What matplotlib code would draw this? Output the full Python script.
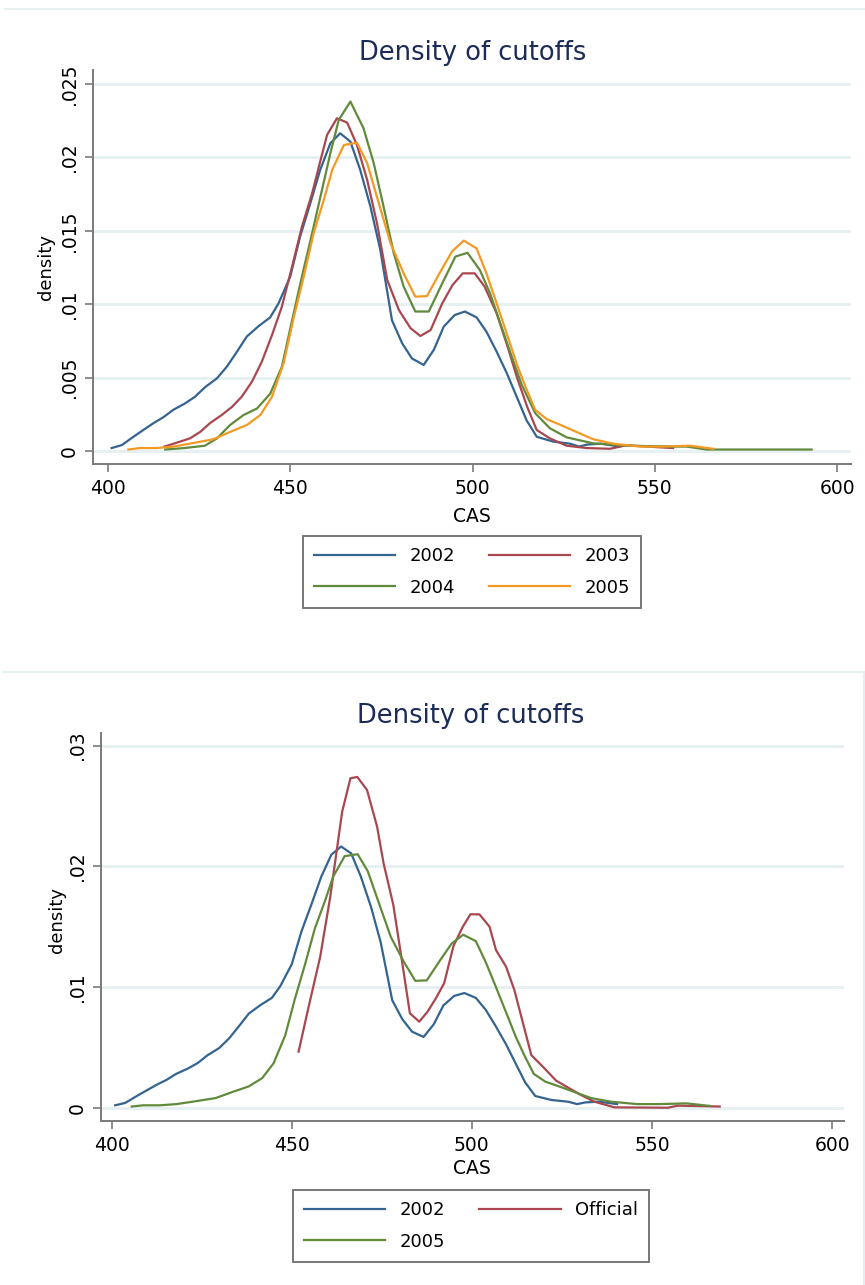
import matplotlib
matplotlib.use("Agg")
import matplotlib.pyplot as plt
from matplotlib.lines import Line2D

# ---------------- data ----------------
x2002 = [401, 403.8, 407, 409.7, 412.5, 415.2, 417.9, 421.2, 423.9, 426.6, 429.9, 432.6, 435.4, 438.1,
         441.3, 444.5, 446.8, 450, 452.7, 455.5, 458.2, 461, 463.7, 466.5, 469.2, 472, 474.7, 477.9,
         480.7, 483.4, 486.6, 489.4, 492.1, 495.1, 497.9, 501.1, 503.8, 506.6, 509.4, 512.1, 514.8,
         517.6, 522.1, 526.7, 529.2, 531.5, 535.2, 540.3]
y2002 = [0.0002, 0.0004, 0.00097, 0.00143, 0.0019, 0.0023, 0.0028, 0.00325, 0.0037, 0.00434, 0.00495,
         0.00574, 0.00677, 0.0078, 0.0085, 0.0091, 0.01006, 0.01188, 0.0146, 0.01687, 0.01914, 0.02096,
         0.02164, 0.02107, 0.01914, 0.01664, 0.0137, 0.0089, 0.00733, 0.0063, 0.00586, 0.0069, 0.00847,
         0.00926, 0.0095, 0.0091, 0.00813, 0.00677, 0.0053, 0.0037, 0.0021, 0.00097, 0.00064, 0.0005,
         0.0003, 0.00044, 0.0005, 0.0003]

x2003 = [415.5, 419.8, 422.5, 425.3, 428, 431.2, 434, 436.7, 439.5, 442.2, 445, 447.7, 450.5, 453.2,
         456, 458.2, 460.1, 462.8, 465.6, 468.3, 471.1, 473.8, 476.6, 479.8, 483, 485.7, 488.5, 491.7,
         494.5, 497.3, 500.6, 503.3, 506.6, 509.5, 512.2, 515, 517.6, 521.2, 525.8, 531.3, 537.7, 542.3,
         547.8, 555]
y2003 = [0.0003, 0.00064, 0.00086, 0.0013, 0.0019, 0.00245, 0.003, 0.0037, 0.00472, 0.00608, 0.0079,
         0.00983, 0.01256, 0.01528, 0.01755, 0.0197, 0.02153, 0.02266, 0.02237, 0.02084, 0.01846, 0.0155,
         0.01165, 0.0096, 0.00836, 0.00783, 0.00824, 0.01006, 0.0113, 0.0121, 0.0121, 0.0112, 0.00938,
         0.0072, 0.005, 0.003, 0.00143, 0.00086, 0.00036, 0.0002, 0.00015, 0.0004, 0.0003, 0.0002]

x2004 = [415.7, 421, 426.6, 429.9, 433.5, 437.2, 440.9, 444.5, 447.7, 450.5, 453.2, 456, 458.7, 461,
         463.3, 466.5, 470.1, 472.9, 475.6, 478.4, 481.1, 484.3, 488, 491.7, 495.3, 498.6, 502, 504.8,
         507.6, 510.5, 513.5, 517.2, 521.2, 525.8, 533.1, 542.3, 555, 558.7, 564.2, 593]
y2004 = [0.0001, 0.0002, 0.00036, 0.00086, 0.00177, 0.00245, 0.0029, 0.0039, 0.00574, 0.0089, 0.01188,
         0.01483, 0.01778, 0.02028, 0.02255, 0.0238, 0.02198, 0.0196, 0.01664, 0.01346, 0.0112, 0.0095,
         0.0095, 0.01142, 0.01324, 0.0135, 0.01233, 0.01074, 0.0087, 0.0066, 0.0045, 0.00257, 0.00155,
         0.00093, 0.00052, 0.00036, 0.0003, 0.0003, 0.0001, 0.0001]

x2005 = [405.6, 408.8, 413.4, 418, 422.5, 428.9, 433.5, 438.1, 441.8, 445, 448.2, 450.9, 453.7, 456.4,
         459.2, 461.5, 464.7, 468.3, 471.1, 474.3, 477.5, 481.1, 484.3, 487.5, 491.2, 494.4, 497.6, 501.1,
         503.8, 506.6, 509.5, 512.3, 514.8, 517.2, 520.4, 523.9, 527.3, 530.3, 533.1, 538.6, 545.9, 552,
         559.6, 566]
y2005 = [0.0001, 0.0002, 0.0002, 0.0003, 0.0005, 0.0008, 0.0013, 0.00177, 0.00245, 0.0037, 0.006,
         0.00904, 0.01188, 0.01483, 0.0171, 0.01914, 0.02084, 0.021, 0.0196, 0.01687, 0.01415, 0.0121,
         0.01051, 0.01055, 0.01222, 0.0136, 0.01433, 0.0138, 0.0121, 0.01006, 0.0079, 0.0058, 0.0042,
         0.0028, 0.00216, 0.0018, 0.00143, 0.0011, 0.0008, 0.0005, 0.0003, 0.0003, 0.00036, 0.00015]

x_official = [451.9, 454.7, 457.9, 460.7, 464, 466.3, 468.2, 470.9, 473.7, 475.5, 478.2, 480.7, 482.8,
              485.4, 487.7, 490, 492.3, 494.9, 497.5, 499.6, 502.1, 504.9, 506.7, 509.5, 511.8, 514.2,
              516.5, 519.7, 523.4, 527.1, 530.3, 534, 539.6, 554.4, 557.2, 568.8]
y_official = [0.00464, 0.00837, 0.0125, 0.01748, 0.02452, 0.02729, 0.0274, 0.02632, 0.02328, 0.02024,
              0.0168, 0.01196, 0.00782, 0.00713, 0.00795, 0.00906, 0.0103, 0.0134, 0.015, 0.01602,
              0.01602, 0.015, 0.01306, 0.01168, 0.00975, 0.007, 0.00436, 0.0034, 0.00224, 0.0016,
              0.00105, 0.0005, 0.00003, 0.0, 0.00017, 0.0001]

title = "Density of cutoffs"
xlabel = "CAS"
ylabel = "density"
xticks = [400, 450, 500, 550, 600]
xticklabels = ["400", "450", "500", "550", "600"]
yticks_top = [0, 0.005, 0.01, 0.015, 0.02, 0.025]
yticklabels_top = ["0", ".005", ".01", ".015", ".02", ".025"]
yticks_bot = [0, 0.01, 0.02, 0.03]
yticklabels_bot = ["0", ".01", ".02", ".03"]

# ---------------- style ----------------
C_BLUE = "#34648f"
C_RED = "#a8474f"
C_GREEN = "#628a3c"
C_ORANGE = "#f29a24"
GRID = "#e6f0f0"
AXC = "#7a7a7a"
TITLEC = "#1c2b57"
LW = 1.6

plt.rcParams['font.family'] = ['DejaVu Sans']

W, H = 865, 1285
fig = plt.figure(figsize=(W / 100, H / 100), dpi=100)
fig.patch.set_facecolor("white")


def px_rect(l, t, r, b):
    return [l / W, 1 - b / H, (r - l) / W, (b - t) / H]


def style_axes(ax, yticks, ylabels):
    for s in ["top", "right"]:
        ax.spines[s].set_visible(False)
    for s in ["left", "bottom"]:
        ax.spines[s].set_color(AXC)
        ax.spines[s].set_linewidth(1.4)
    ax.set_xticks(xticks)
    ax.set_xticklabels(xticklabels)
    ax.set_yticks(yticks)
    ax.set_yticklabels(ylabels, rotation=90, va="center")
    ax.tick_params(axis="both", colors=AXC, length=6, width=1.2, labelsize=13.5, labelcolor="black")
    ax.tick_params(axis="x", pad=5)
    ax.tick_params(axis="y", pad=4)
    ax.grid(axis="y", color=GRID, linewidth=2.0)
    ax.grid(axis="x", visible=False)
    ax.set_axisbelow(True)


# ---------------- top chart ----------------
ax1 = fig.add_axes(px_rect(93, 70, 851, 464))
ax1.plot(x2002, y2002, color=C_BLUE, lw=LW, label="2002")
ax1.plot(x2003, y2003, color=C_RED, lw=LW, label="2003")
ax1.plot(x2004, y2004, color=C_GREEN, lw=LW, label="2004")
ax1.plot(x2005, y2005, color=C_ORANGE, lw=LW, label="2005")
ax1.set_xlim(395.9, 603.8)
ax1.set_ylim(-0.000886, 0.02595)
style_axes(ax1, yticks_top, yticklabels_top)
h, l = ax1.get_legend_handles_labels()
order = [0, 2, 1, 3]
leg1 = fig.legend([h[i] for i in order], [l[i] for i in order], ncol=2,
                  loc="center", bbox_to_anchor=(472 / W, 1 - 572 / H),
                  fontsize=13, frameon=True, fancybox=False, handlelength=4.5,
                  handletextpad=0.8, columnspacing=1.9, labelspacing=0.75, borderpad=0.6)
leg1.get_frame().set_edgecolor("#555555")
leg1.get_frame().set_linewidth(1.4)

fig.text(473 / W, 1 - 53 / H, title, ha="center", va="center", fontsize=18.5, color=TITLEC)
fig.text(472 / W, 1 - 517 / H, xlabel, ha="center", va="center", fontsize=13.5)
fig.text(46 / W, 1 - 267 / H, ylabel, ha="center", va="center", fontsize=13, rotation=90)

# ---------------- bottom chart ----------------
ax2 = fig.add_axes(px_rect(101, 733, 844, 1121))
ax2.plot(x2002, y2002, color=C_BLUE, lw=LW, label="2002")
ax2.plot(x_official, y_official, color=C_RED, lw=LW, label="Official")
ax2.plot(x2005, y2005, color=C_GREEN, lw=LW, label="2005")
ax2.set_xlim(397.06, 603.3)
ax2.set_ylim(-0.0011, 0.03104)
style_axes(ax2, yticks_bot, yticklabels_bot)
h, l = ax2.get_legend_handles_labels()
order = [0, 2, 1]
leg2 = fig.legend([h[i] for i in order], [l[i] for i in order], ncol=2,
                  loc="center", bbox_to_anchor=(471 / W, 1 - 1226 / H),
                  fontsize=13, frameon=True, fancybox=False, handlelength=4.5,
                  handletextpad=0.8, columnspacing=1.9, labelspacing=0.75, borderpad=0.6)
leg2.get_frame().set_edgecolor("#555555")
leg2.get_frame().set_linewidth(1.4)

fig.text(471 / W, 1 - 716 / H, title, ha="center", va="center", fontsize=18.5, color=TITLEC)
fig.text(472 / W, 1 - 1168 / H, xlabel, ha="center", va="center", fontsize=13.5)
fig.text(57 / W, 1 - 920 / H, ylabel, ha="center", va="center", fontsize=13, rotation=90)

# faint graph-region borders
fig.add_artist(Line2D([5 / W, 1], [1 - 9 / H, 1 - 9 / H], color=GRID, lw=1.5))
fig.add_artist(Line2D([3 / W, 864 / W], [1 - 672 / H, 1 - 672 / H], color=GRID, lw=1.5))
fig.add_artist(Line2D([864 / W, 864 / W], [1 - 672 / H, 0], color=GRID, lw=1.5))

fig.savefig("out.png", dpi=100)
